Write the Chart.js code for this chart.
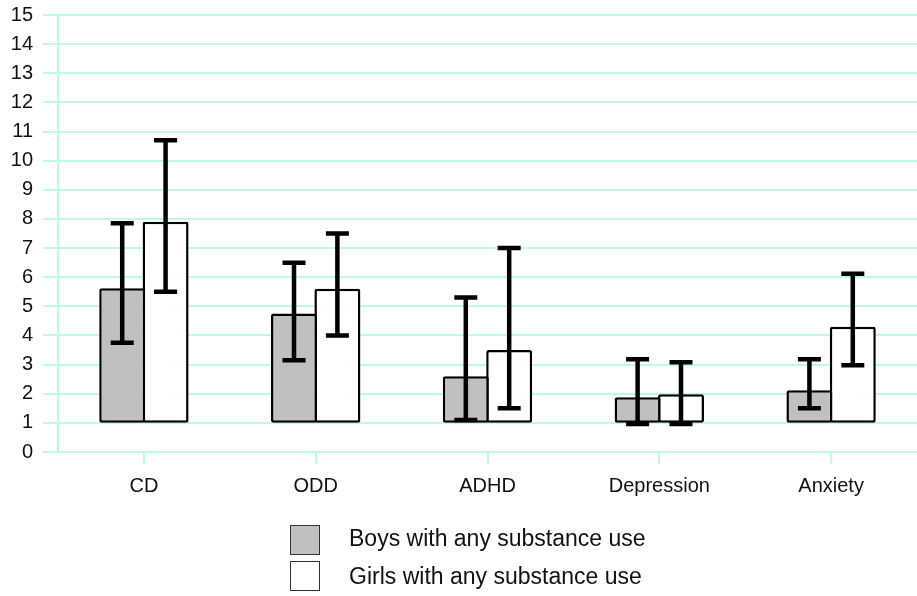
<!DOCTYPE html>
<html>
<head>
<meta charset="utf-8">
<script src="https://cdn.jsdelivr.net/npm/chart.js@4"></script>
<style>
  html, body { margin: 0; padding: 0; background: #fff; }
  #wrap { position: relative; width: 917px; height: 596px; }
  .leg { position: absolute; left: 290px; font: 23px "Liberation Sans", Arial, sans-serif; color: #111; }
  .leg span.box { position: absolute; left: 0; width: 30px; height: 30px; border: 1px solid #333; box-sizing: border-box; }
  .leg span.txt { position: absolute; left: 59px; white-space: nowrap; line-height: 30px; }
</style>
</head>
<body>
<div id="wrap">
  <canvas id="myChart-1" width="917" height="596"></canvas>
  <div class="leg" style="top:525px"><span class="box" style="background:#c0c0c0"></span><span class="txt" style="top:-2px">Boys with any substance use</span></div>
  <div class="leg" style="top:561px"><span class="box" style="background:#fff"></span><span class="txt">Girls with any substance use</span></div>
</div>
<script>
const categories = ["CD", "ODD", "ADHD", "Depression", "Anxiety"];
const baseLine = 1;

const boysValues = [5.62, 4.75, 2.6, 1.88, 2.12];
const boysLow    = [3.75, 3.15, 1.1, 0.96, 1.5];
const boysHigh   = [7.85, 6.5, 5.3, 3.18, 3.18];

const girlsValues = [7.9, 5.6, 3.5, 1.98, 4.3];
const girlsLow    = [5.5, 4.0, 1.5, 0.96, 2.98];
const girlsHigh   = [10.7, 7.5, 7.0, 3.08, 6.12];

const gridColor = '#c0fbdd';

const errorBars = {
    id: 'errorBars',
    afterDatasetsDraw(chart) {
        const ctx = chart.ctx;
        const y = chart.scales.y;
        chart.data.datasets.forEach((ds, i) => {
            const meta = chart.getDatasetMeta(i);
            meta.data.forEach((bar, j) => {
                const top = y.getPixelForValue(ds.errHigh[j]);
                const bot = y.getPixelForValue(ds.errLow[j]);
                ctx.save();
                ctx.strokeStyle = '#000';
                ctx.lineWidth = 4.5;
                ctx.beginPath();
                ctx.moveTo(bar.x, top);
                ctx.lineTo(bar.x, bot);
                ctx.moveTo(bar.x - 11.5, top);
                ctx.lineTo(bar.x + 11.5, top);
                ctx.moveTo(bar.x - 11.5, bot);
                ctx.lineTo(bar.x + 11.5, bot);
                ctx.stroke();
                ctx.restore();
            });
        });
    }
};

const ctx = document.getElementById('myChart-1');
new Chart(ctx, {
    type: 'bar',
    data: {
        labels: categories,
        datasets: [{
            label: 'Boys with any substance use',
            data: boysValues.map(v => [baseLine, v]),
            errLow: boysLow,
            errHigh: boysHigh,
            backgroundColor: '#c0c0c0',
            borderColor: '#000',
            borderWidth: 2.5,
            borderSkipped: false,
            borderRadius: 2
        }, {
            label: 'Girls with any substance use',
            data: girlsValues.map(v => [baseLine, v]),
            errLow: girlsLow,
            errHigh: girlsHigh,
            backgroundColor: '#ffffff',
            borderColor: '#000',
            borderWidth: 2.5,
            borderSkipped: false,
            borderRadius: 2
        }]
    },
    plugins: [errorBars],
    options: {
        responsive: false,
        animation: false,
        categoryPercentage: 0.505,
        barPercentage: 1.06,
        layout: { padding: { top: 15, right: 0, left: 0, bottom: 0 } },
        plugins: {
            legend: { display: false },
            tooltip: { enabled: false }
        },
        scales: {
            y: {
                min: 0,
                max: 15,
                afterFit(scale) {
                    scale.width = 58;
                    scale.paddingTop = 0;
                    scale.paddingBottom = 0;
                },
                ticks: {
                    stepSize: 1,
                    padding: 10,
                    color: '#111',
                    font: { family: '"Liberation Sans", Arial', size: 20 }
                },
                grid: {
                    color: gridColor,
                    lineWidth: 2,
                    tickLength: 15
                },
                border: { color: gridColor, width: 2 }
            },
            x: {
                afterFit(scale) { scale.height = 144; },
                ticks: {
                    padding: 10,
                    color: '#111',
                    font: { family: '"Liberation Sans", Arial', size: 20 }
                },
                grid: {
                    offset: false,
                    drawOnChartArea: false,
                    color: gridColor,
                    lineWidth: 2,
                    tickLength: 12
                },
                border: { display: false }
            }
        }
    }
});
</script>
</body>
</html>
